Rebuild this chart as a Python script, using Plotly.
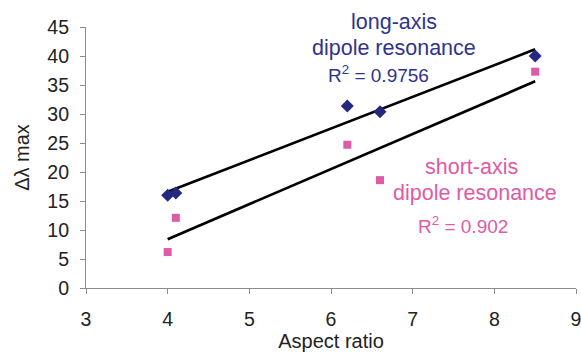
import numpy as np
import plotly.graph_objects as go

aspect_ratio = [4.0, 4.1, 6.2, 6.6, 8.5]
long_axis = [16.0, 16.4, 31.4, 30.4, 40.0]
short_axis = [6.2, 12.1, 24.7, 18.6, 37.3]
x_ticks = [3, 4, 5, 6, 7, 8, 9]
y_ticks = [0, 5, 10, 15, 20, 25, 30, 35, 40, 45]

NAVY = "#25287f"
NAVY_TXT = "#2f338c"
PINK = "#e05aa5"
FONT = "Liberation Sans, Arial, sans-serif"

W, H = 581, 352
ml, mr, mt, mb = 86, 5, 27, 64

x = np.array(aspect_ratio)
fig = go.Figure()
for ys in (long_axis, short_axis):
    m, b = np.polyfit(x, np.array(ys), 1)
    xx = np.array([x.min(), x.max()])
    fig.add_trace(go.Scatter(x=xx, y=m * xx + b, mode="lines",
                             line=dict(color="black", width=2.7),
                             showlegend=False, hoverinfo="skip"))

fig.add_trace(go.Scatter(x=aspect_ratio, y=long_axis, mode="markers",
                         marker=dict(symbol="diamond", size=10, color=NAVY),
                         showlegend=False))
fig.add_trace(go.Scatter(x=aspect_ratio, y=short_axis, mode="markers",
                         marker=dict(symbol="square", size=8, color=PINK),
                         showlegend=False))

ann = [
    ("long-axis", 393.5, 22, NAVY_TXT, 21.5),
    ("dipole resonance", 393.5, 48, NAVY_TXT, 21.5),
    ("R<sup>2</sup> = 0.9756", 378, 74, NAVY_TXT, 19),
    ("short-axis", 471.5, 167, PINK, 21.5),
    ("dipole resonance", 475, 193, PINK, 21.5),
    ("R<sup>2</sup> = 0.902", 463, 225, PINK, 19),
]
for text, px, py, col, fs in ann:
    fig.add_annotation(text=text,
                       x=(px - ml) / (W - ml - mr),
                       y=1 - (py - mt) / (H - mt - mb),
                       xref="paper", yref="paper",
                       showarrow=False, xanchor="center", yanchor="middle",
                       font=dict(family=FONT, size=fs, color=col))

axis_common = dict(showline=True, linecolor="#8c8c8c", linewidth=1.2, ticks="outside",
                   ticklen=5, tickcolor="#8c8c8c", showgrid=False, zeroline=False,
                   automargin=False, ticklabeloverflow="allow",
                   tickfont=dict(family=FONT, size=19.5, color="#222"))
fig.update_xaxes(range=[3, 9], tickvals=x_ticks, ticklabelstandoff=8,
                 title=dict(text="Aspect ratio", font=dict(family=FONT, size=20, color="#222"), standoff=0),
                 **axis_common)
fig.update_yaxes(range=[0, 45], tickvals=y_ticks, ticklabelstandoff=7,
                 title=dict(text="Δλ max", font=dict(family=FONT, size=20, color="#222"), standoff=12),
                 **axis_common)
fig.update_layout(width=W, height=H, margin=dict(l=ml, r=mr, t=mt, b=mb),
                  plot_bgcolor="white", paper_bgcolor="white", hovermode=False)
fig.write_html("out.html", config={"displayModeBar": False},
               post_script="document.body.style.margin='0';document.body.style.overflow='hidden';")
